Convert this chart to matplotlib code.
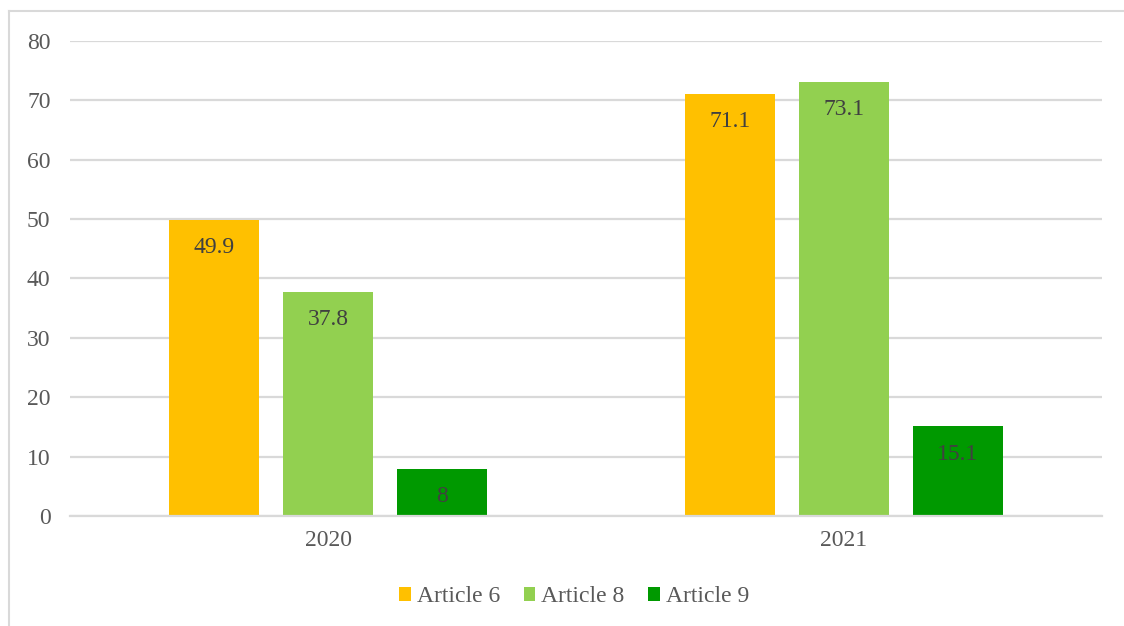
import numpy as np
import matplotlib.pyplot as plt
from matplotlib.lines import Line2D

years = ['2020', '2021']
series = ['Article 6', 'Article 8', 'Article 9']
art6 = [49.9, 71.1]
art8 = [37.8, 73.1]
art9 = [8, 15.1]
colors = ['#FFC000', '#92D050', '#009900']

plt.rcParams['font.family'] = ['Liberation Serif', 'DejaVu Serif']

fig = plt.figure(figsize=(11.24, 6.26), dpi=100)
ax = fig.add_axes([70 / 1124, 110 / 626, 1032 / 1124, 475 / 626])

x = np.arange(len(years))
w = 90 / 516
step = 114 / 516
for i, (name, vals) in enumerate(zip(series, [art6, art8, art9])):
    bars = ax.bar(x + (i - 1) * step, vals, w, color=colors[i], label=name, zorder=2)
    for b, v in zip(bars, vals):
        ax.annotate(f'{v:g}', (b.get_x() + b.get_width() / 2, v), xytext=(0, -20),
                    textcoords='offset points', ha='center', va='center',
                    fontsize=17, color='#404040', zorder=3)

ax.set_xlim(-0.5, 1.5)
ax.set_ylim(0, 80)
ax.set_yticks(range(0, 81, 10))
ax.set_xticks(x)
ax.set_xticklabels(years)
ax.yaxis.grid(True, color='#D9D9D9', linewidth=1.6, zorder=0)
ax.set_axisbelow(True)
for s in ['top', 'right', 'left']:
    ax.spines[s].set_visible(False)
ax.spines['bottom'].set_color('#D9D9D9')
ax.spines['bottom'].set_linewidth(1.6)
ax.tick_params(axis='both', length=0, labelsize=17, labelcolor='#595959')
ax.tick_params(axis='y', pad=14)
ax.tick_params(axis='x', pad=10)

leg = fig.legend(loc='center', bbox_to_anchor=(574 / 1124, 1 - 597 / 626), ncol=3,
                 frameon=False, fontsize=17, handlelength=0.5, handleheight=0.5,
                 handletextpad=0.25, columnspacing=1.0, labelcolor='#595959')

# outer frame (left and top edges visible)
fig.add_artist(Line2D([8.5 / 1124, 8.5 / 1124], [0, 1 - 11 / 626], color='#D9D9D9', lw=1.5))
fig.add_artist(Line2D([8.5 / 1124, 1], [1 - 11 / 626, 1 - 11 / 626], color='#D9D9D9', lw=1.5))

fig.savefig('out.png', dpi=100)
